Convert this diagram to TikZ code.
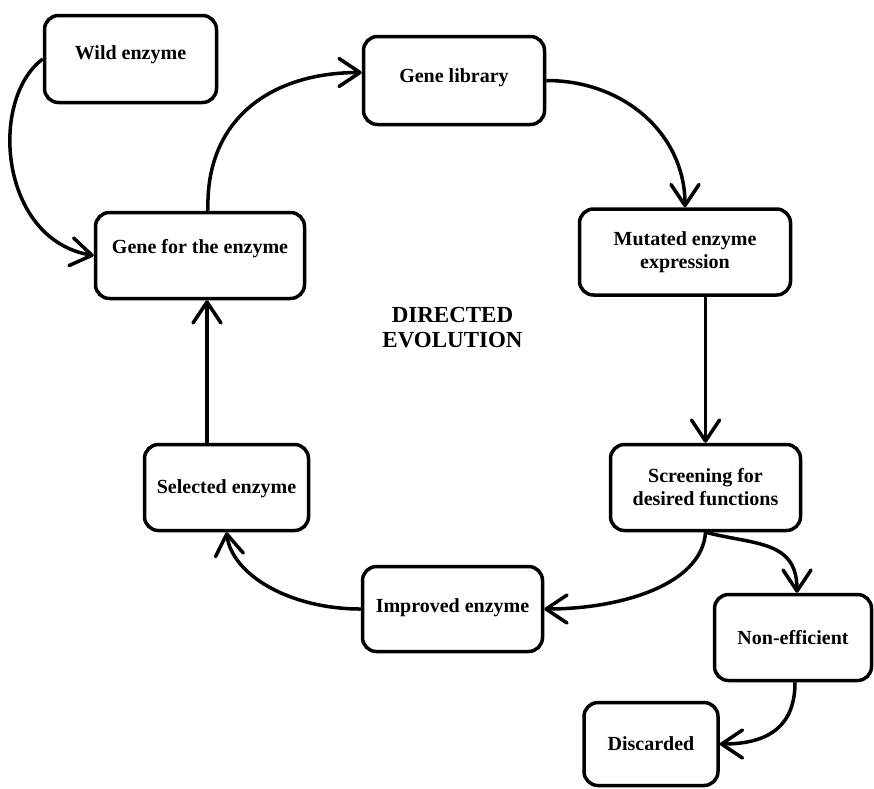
\documentclass[tikz,border=0pt]{standalone}
\usepackage{fontspec}
\setmainfont{Liberation Serif}
\usetikzlibrary{arrows.meta}
\begin{document}
\begin{tikzpicture}[x=1pt,y=-1pt,
  box/.style={draw=black, line width=3.5pt, rounded corners=14pt, inner sep=0pt,
    font=\fontsize{20}{23}\selectfont\bfseries, align=center},
  one/.style={text height=14pt, text depth=#1},
  title/.style={font=\fontsize{23}{25}\selectfont\bfseries, align=center, inner sep=0pt},
  arr/.style={line width=3.5pt, -{Straight Barb[length=21pt,width=28pt,round]}}
]
\useasboundingbox (0,0) rectangle (874,788);

% boxes
\node[box, minimum width=172pt, minimum height=87pt, one=13pt] (wild) at (130.5,59) {Wild enzyme};
\node[box, minimum width=181pt, minimum height=88pt, one=10.5pt] (lib) at (454,80.5) {Gene library};
\node[box, minimum width=209pt, minimum height=86pt, one=18pt] (gene) at (200,255.5) {Gene for the enzyme};
\node[box, minimum width=211pt, minimum height=86pt] (mut) at (685,252) {Mutated enzyme\\expression};
\node[box, minimum width=190pt, minimum height=86pt] (scr) at (705.5,487.5) {Screening for\\desired functions};
\node[box, minimum width=164pt, minimum height=86pt, one=3pt] (sel) at (226.5,487.5) {Selected enzyme};
\node[box, minimum width=180pt, minimum height=85pt, one=8pt] (imp) at (452.5,609) {Improved enzyme};
\node[box, minimum width=157pt, minimum height=86pt, one=1pt] (non) at (793,637.5) {Non-efficient};
\node[box, minimum width=134pt, minimum height=83pt, one=1pt] (dis) at (651,744) {Discarded};

\node[title] (ttl) at (452.5,327.5) {DIRECTED\\EVOLUTION};

% connectors
\draw[arr] (wild.west) .. controls (-12,100) and (0,240) .. (gene.west);
\draw[arr] ([xshift=8pt]gene.north) .. controls (205,120) and (270,72.5) .. ([yshift=8pt]lib.west);
\draw[arr] (lib.east) .. controls (625,80.5) and (685,135) .. (mut.north);
\draw[arr] (mut.south -| scr.north) -- (scr.north);
\draw[arr] (scr.south) .. controls (702,585) and (620,609) .. (imp.east);
\draw[arr] (scr.south) .. controls (755,545) and (797,540) .. ([xshift=4pt]non.north);
\draw[arr] ([xshift=2pt]non.south) .. controls (795,725) and (770,744) .. (dis.east);
\draw[arr] (imp.west) .. controls (290,609) and (232,575) .. (sel.south);
\draw[arr] ([xshift=-19.5pt]sel.north) -- ([xshift=-19.5pt]sel.north |- gene.south);
\end{tikzpicture}
\end{document}
